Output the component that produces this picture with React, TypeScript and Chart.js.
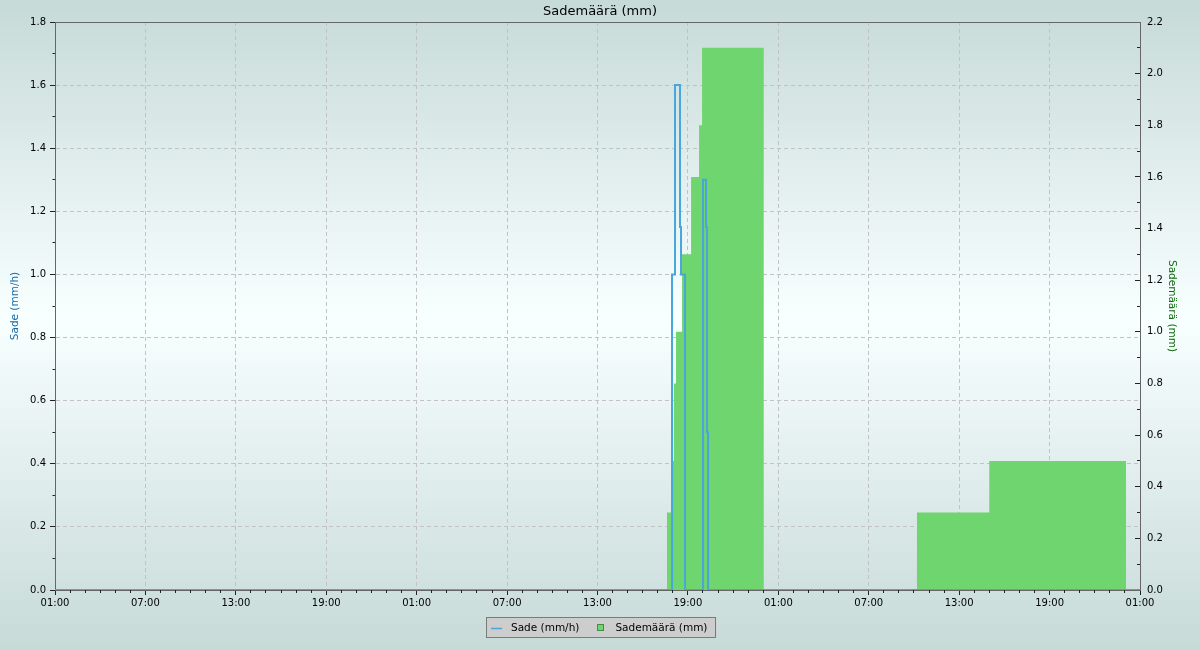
import React, { useEffect, useRef } from 'react';
import { Chart, registerables } from 'chart.js';

Chart.register(...registerables);

const FONT = "'DejaVu Sans', 'Liberation Sans', sans-serif";

// Time axis: hours since the first x tick (01:00 on day 1), three days shown.
// Sade (mm/h): step changes (hour, value from that hour on)
const sadeHours = [0, 40.945, 41.144, 41.476, 41.543, 41.808, 43.003, 43.202, 43.268, 43.334, 72];
const sadeValues = [0, 1.0, 1.6, 1.15, 1.0, 0, 1.3, 1.15, 0.5, 0, 0];

// Sademäärä (mm): step changes (hour, value from that hour on)
const maaraHours = [40.613, 41.0, 41.078, 41.21, 41.61, 42.21, 42.74, 42.94, 47.03, 57.2, 62.0, 71.07];
const maaraValues = [0.3, 0.5, 0.8, 1.0, 1.3, 1.6, 1.8, 2.1, 0, 0.3, 0.5, 0];

const xTickLabels = ['01:00', '07:00', '13:00', '19:00', '01:00', '07:00', '13:00', '19:00', '01:00', '07:00', '13:00', '19:00', '01:00'];

const TITLE = 'Sademäärä (mm)';
const SADE_LABEL = 'Sade (mm/h)';
const MAARA_LABEL = 'Sademäärä (mm)';

const BLUE = '#49a6da';
const GREEN = '#6fd56f';
const GRID = '#c2c2c2';
const AXIS = '#666666';
const TICK = '#222222';

const align = (p: number) => Math.round(p - 0.5) + 0.5;

const decorPlugin = {
  id: 'decor',
  beforeDraw(chart: any) {
    const { ctx, width, height } = chart;
    const g = ctx.createLinearGradient(0, 0, 0, height);
    g.addColorStop(0, '#c6dad8');
    g.addColorStop(0.49, '#f8ffff');
    g.addColorStop(1, '#c6dad8');
    ctx.save();
    ctx.fillStyle = g;
    ctx.fillRect(0, 0, width, height);
    ctx.restore();
  },
  beforeDatasetsDraw(chart: any) {
    const { ctx, chartArea } = chart;
    ctx.save();
    ctx.strokeStyle = AXIS;
    ctx.lineWidth = 1;
    ctx.beginPath();
    const t = align(chartArea.top);
    ctx.moveTo(chartArea.left, t);
    ctx.lineTo(chartArea.right, t);
    ctx.stroke();
    ctx.restore();
  },
  afterDraw(chart: any) {
    const { ctx } = chart;
    const xs = chart.scales.x;
    const ys = chart.scales.y;
    const y2s = chart.scales.y2;
    // minor ticks
    ctx.save();
    ctx.strokeStyle = TICK;
    ctx.lineWidth = 1;
    ctx.beginPath();
    for (let h = 0; h <= 72; h++) {
      if (h % 6 === 0) continue;
      const px = align(xs.getPixelForValue(h));
      ctx.moveTo(px, xs.top);
      ctx.lineTo(px, xs.top + 3);
    }
    for (let k = 1; k < 18; k += 2) {
      const py = align(ys.getPixelForValue(k / 10));
      ctx.moveTo(ys.right - 2.5, py);
      ctx.lineTo(ys.right, py);
    }
    for (let k = 1; k < 22; k += 2) {
      const py = align(y2s.getPixelForValue(k / 10));
      ctx.moveTo(y2s.left, py);
      ctx.lineTo(y2s.left - 3, py);
    }
    ctx.stroke();
    ctx.restore();

    // legend
    const ds = chart.data.datasets;
    ctx.save();
    ctx.font = `10.5px ${FONT}`;
    const w1 = ctx.measureText(ds[0].label).width;
    const w2 = ctx.measureText(ds[1].label).width;
    const padL = 5, lineW = 11, gapA = 9, gapB = 18, sq = 7, gapC = 11, padR = 9;
    const total = padL + lineW + gapA + w1 + gapB + sq + gapC + w2 + padR;
    const left = Math.round(601 - total / 2);
    const top = 617;
    const h = 20;
    ctx.fillStyle = '#cdcdcd';
    ctx.fillRect(left, top, total, h);
    ctx.strokeStyle = '#7a7a7a';
    ctx.lineWidth = 1;
    ctx.strokeRect(left + 0.5, top + 0.5, Math.round(total) - 1, h);
    const cy = top + 11;
    let x = left + padL;
    ctx.strokeStyle = ds[0].borderColor;
    ctx.lineWidth = 1.5;
    ctx.beginPath();
    ctx.moveTo(x, cy + 0.5);
    ctx.lineTo(x + lineW, cy + 0.5);
    ctx.stroke();
    x += lineW + gapA;
    ctx.fillStyle = '#000';
    ctx.textBaseline = 'middle';
    ctx.textAlign = 'left';
    ctx.fillText(ds[0].label, x, cy);
    x += w1 + gapB;
    const sx = Math.round(x);
    ctx.fillStyle = ds[1].backgroundColor;
    ctx.fillRect(sx, cy - 4, sq, sq);
    ctx.strokeStyle = '#3f8f3f';
    ctx.lineWidth = 1;
    ctx.strokeRect(sx + 0.5, cy - 3.5, sq - 1, sq - 1);
    x += sq + gapC;
    ctx.fillStyle = '#000';
    ctx.fillText(ds[1].label, x, cy);
    ctx.restore();
  },
};

function makeConfig(): any {
  const sadeData = sadeHours.map((h, i) => ({ x: h, y: sadeValues[i] }));
  const maaraData = maaraHours.map((h, i) => ({ x: h, y: maaraValues[i] }));
  const edgeHidden = (max: number) => (c: any) =>
    c.tick && (c.tick.value <= 1e-6 || c.tick.value >= max - 1e-6) ? 'rgba(0,0,0,0)' : GRID;
  return {
    type: 'line',
    data: {
      datasets: [
        {
          label: SADE_LABEL,
          data: sadeData,
          yAxisID: 'y',
          stepped: true,
          borderColor: BLUE,
          backgroundColor: BLUE,
          borderWidth: 2,
          pointRadius: 0,
          fill: false,
        },
        {
          label: MAARA_LABEL,
          data: maaraData,
          yAxisID: 'y2',
          stepped: true,
          borderColor: 'rgba(0,0,0,0)',
          backgroundColor: GREEN,
          borderWidth: 0,
          pointRadius: 0,
          fill: 'origin',
        },
      ],
    },
    options: {
      responsive: false,
      animation: false,
      devicePixelRatio: 1,
      layout: { padding: 0 },
      font: { family: FONT },
      plugins: {
        legend: { display: false },
        tooltip: { enabled: false },
        title: {
          display: true,
          text: TITLE,
          color: '#000',
          font: { family: FONT, size: 13, weight: 'normal' },
          padding: { top: 4, bottom: 2.4 },
        },
      },
      scales: {
        x: {
          type: 'linear',
          position: 'bottom',
          min: 0,
          max: 72,
          ticks: {
            stepSize: 6,
            autoSkip: false,
            maxRotation: 0,
            color: '#000',
            padding: 2,
            font: { family: FONT, size: 10 },
            callback: (_v: any, i: number) => xTickLabels[i] ?? '',
          },
          grid: { color: edgeHidden(72), tickLength: 5, tickColor: TICK, lineWidth: 1 },
          border: { display: true, color: AXIS, dash: [4, 3] },
          afterFit: (s: any) => { s.height = 60; },
        },
        y: {
          type: 'linear',
          position: 'left',
          min: 0,
          max: 1.8,
          ticks: {
            stepSize: 0.2,
            color: '#000',
            padding: 4,
            font: { family: FONT, size: 10 },
            callback: (v: any) => Number(v).toFixed(1),
          },
          grid: { color: edgeHidden(1.8), tickLength: 5, tickColor: TICK, lineWidth: 1 },
          border: { display: true, color: AXIS, dash: [4, 3] },
          title: {
            display: true,
            text: SADE_LABEL,
            color: '#1468a6',
            font: { family: FONT, size: 10.5 },
            padding: { top: 8.7, bottom: 0 },
          },
          afterFit: (s: any) => { s.width = 55; },
        },
        y2: {
          type: 'linear',
          position: 'right',
          min: 0,
          max: 2.2,
          ticks: {
            stepSize: 0.2,
            color: '#000',
            padding: 12,
            font: { family: FONT, size: 10 },
            callback: (v: any) => Number(v).toFixed(1),
          },
          grid: { drawOnChartArea: false, tickLength: -5, tickColor: TICK, lineWidth: 1 },
          border: { display: true, color: AXIS },
          title: {
            display: true,
            text: MAARA_LABEL,
            color: '#0b6a0b',
            font: { family: FONT, size: 10.5 },
            padding: { top: 21.7, bottom: 0 },
          },
          afterFit: (s: any) => { s.width = 60; },
        },
      },
    },
    plugins: [decorPlugin],
  };
}

export default function App() {
  const ref = useRef<HTMLCanvasElement>(null);
  useEffect(() => {
    document.body.style.margin = '0';
    document.body.style.overflow = 'hidden';
    const chart = new Chart(ref.current as HTMLCanvasElement, makeConfig());
    return () => chart.destroy();
  }, []);
  return (
    <div style={{ position: 'relative', width: 1200, height: 650 }}>
      <canvas ref={ref} width={1200} height={650} style={{ display: 'block', width: 1200, height: 650 }} />
    </div>
  );
}
